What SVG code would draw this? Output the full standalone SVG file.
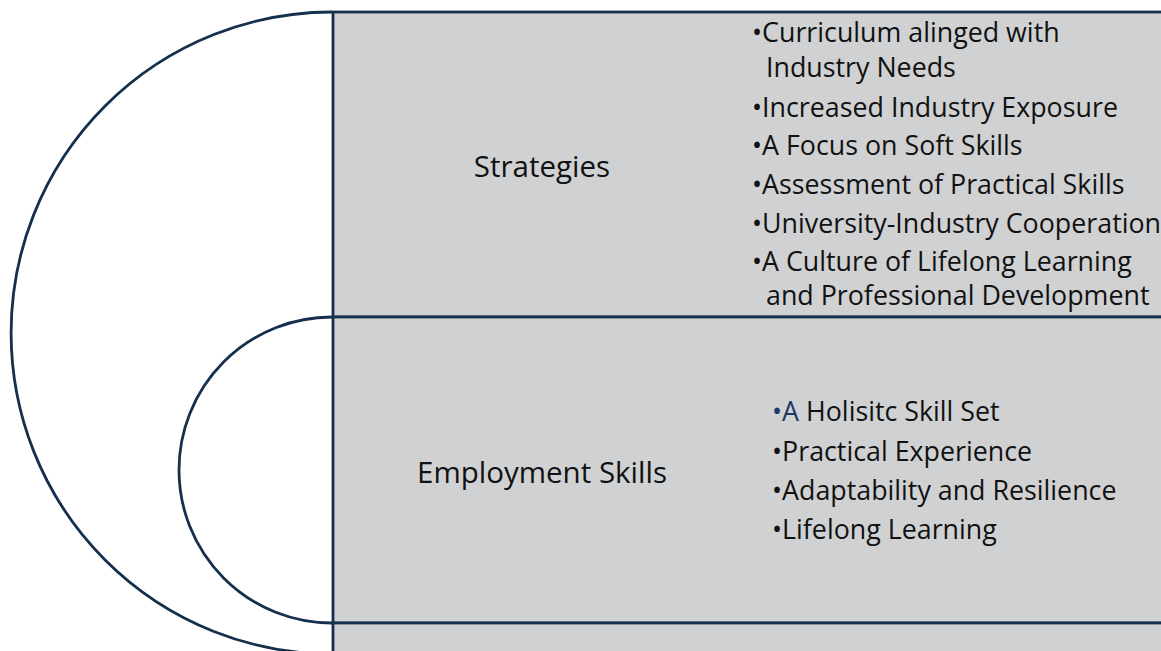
<svg xmlns="http://www.w3.org/2000/svg" width="1161" height="651" viewBox="0 0 1161 651">
  <style>
    .band { fill: #d0d1d3; stroke: #15304d; stroke-width: 2.8; }
    .arc { fill: none; stroke: #15304d; stroke-width: 2.8; }
    .title { font-family: "Open Sans", "Liberation Sans", sans-serif; font-size: 29.5px; fill: #111; text-anchor: middle; }
    .item { font-family: "Open Sans", "Liberation Sans", sans-serif; font-size: 26.8px; fill: #111; }
    .accent { fill: #1f3864; }
  </style>
  <rect width="1161" height="651" fill="#ffffff"/>

  <!-- connectors: the two nested arcs -->
  <g id="connectors">
    <path class="arc" d="M 332 12 A 321 321 0 0 0 332 654"/>
    <path class="arc" d="M 332 317 A 153 153 0 0 0 332 623"/>
  </g>

  <g id="strategies">
    <rect class="band" x="333" y="12" width="840" height="305"/>
    <text class="title" x="542" y="177">Strategies</text>
    <text class="item" x="752" y="42">•Curriculum alinged with<tspan x="766" y="77">Industry Needs</tspan></text>
    <text class="item" x="752" y="117">•Increased Industry Exposure</text>
    <text class="item" x="752" y="155">•A Focus on Soft Skills</text>
    <text class="item" x="752" y="194">•Assessment of Practical Skills</text>
    <text class="item" x="752" y="233">•University-Industry Cooperation</text>
    <text class="item" x="752" y="271">•A Culture of Lifelong Learning<tspan x="766" y="305">and Professional Development</tspan></text>
  </g>

  <g id="employment-skills">
    <rect class="band" x="333" y="317" width="840" height="306"/>
    <text class="title" x="542" y="483">Employment Skills</text>
    <text class="item" x="772" y="421"><tspan class="accent">•A</tspan> Holisitc Skill Set</text>
    <text class="item" x="772" y="461">•Practical Experience</text>
    <text class="item" x="772" y="500">•Adaptability and Resilience</text>
    <text class="item" x="772" y="539">•Lifelong Learning</text>
  </g>

  <g id="third-band">
    <rect class="band" x="333" y="623" width="840" height="40"/>
  </g>
</svg>
